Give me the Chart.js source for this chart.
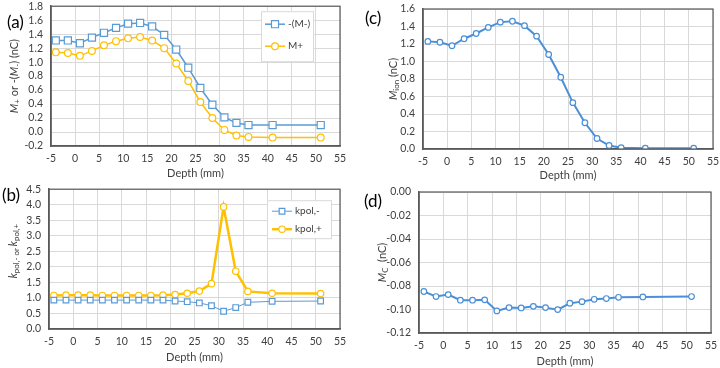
<!DOCTYPE html>
<html lang="en">
<head>
  <meta charset="utf-8">
  <title>Depth profiles</title>
  <script src="https://cdn.jsdelivr.net/npm/chart.js@4.4.0/dist/chart.umd.min.js"></script>
  <style>
    body { margin: 0; padding: 0; background: #fff; }
    .panel { position: absolute; width: 360px; height: 184px; }
    .panel canvas { display: block; }
    .tag { position: absolute; font: 17px Lato, "Open Sans", sans-serif; color: #000; }
  </style>
</head>
<body>
  <div class="panel" style="left:0;top:0"><canvas id="ca" width="360" height="184"></canvas></div>
  <div class="panel" style="left:0;top:184px"><canvas id="cb" width="360" height="184"></canvas></div>
  <div class="panel" style="left:360px;top:0"><canvas id="cc" width="360" height="184"></canvas></div>
  <div class="panel" style="left:360px;top:184px"><canvas id="cd" width="360" height="184"></canvas></div>
  <div class="tag" style="left:7px;top:11px">(a)</div>
  <div class="tag" style="left:2px;top:184px">(b)</div>
  <div class="tag" style="left:365px;top:7px">(c)</div>
  <div class="tag" style="left:364px;top:190px">(d)</div>
  <script>
    // depth of each measurement point (mm)
    const depth = [-4, -1.5, 1, 3.5, 6, 8.5, 11, 13.5, 16, 18.5, 21, 23.5, 26, 28.5, 31, 33.5, 36, 41, 51];

    // (a) readings, nC
    const mMinus = [1.31, 1.31, 1.27, 1.35, 1.42, 1.49, 1.55, 1.56, 1.51, 1.39, 1.18, 0.92, 0.63, 0.39, 0.21, 0.13, 0.10, 0.10, 0.10];
    const mPlus  = [1.14, 1.13, 1.09, 1.16, 1.24, 1.30, 1.34, 1.36, 1.31, 1.20, 0.98, 0.73, 0.43, 0.20, 0.03, -0.05, -0.07, -0.08, -0.08];

    // (b) polarity correction factors
    const kMinus = [0.93, 0.93, 0.93, 0.93, 0.93, 0.93, 0.93, 0.93, 0.93, 0.93, 0.90, 0.88, 0.84, 0.75, 0.57, 0.69, 0.86, 0.89, 0.90];
    const kPlus  = [1.08, 1.09, 1.09, 1.09, 1.08, 1.08, 1.08, 1.08, 1.08, 1.09, 1.11, 1.15, 1.22, 1.46, 3.93, 1.86, 1.21, 1.15, 1.14];

    // (c) ion signal, nC
    const mIon = [1.23, 1.22, 1.18, 1.26, 1.32, 1.39, 1.45, 1.46, 1.41, 1.29, 1.08, 0.82, 0.53, 0.30, 0.12, 0.04, 0.015, 0.01, 0.01];

    // (d) Compton current, nC
    const mC = [-0.0847, -0.0890, -0.0873, -0.0921, -0.0921, -0.0918, -0.1012, -0.0984, -0.0987, -0.0973, -0.0984, -0.1001, -0.0947, -0.0933, -0.0913, -0.0907, -0.0896, -0.0893, -0.0890];

    // axis ranges [min, max, step]
    const xRange = [-5, 55, 5];
    const yRangeA = [-0.2, 1.8, 0.2];
    const yRangeB = [0, 4.5, 0.5];
    const yRangeC = [0, 1.6, 0.2];
    const yRangeD = [-0.12, 0, 0.02];

    const FONT = 'Lato, "Open Sans", sans-serif';
    const TXT = '#404040';
    const GRID = '#d9d9d9';
    const AXIS = '#595959';
    const BLUE = '#5b9bd5';
    const GOLD = '#ffc000';
    const DEEP = '#4a8fd8';

    const pts = arr => arr.map((v, i) => ({ x: depth[i], y: v }));

    function setFont(ctx, p, size) {
      const s = p.sub ? size * 0.72 : size;
      ctx.font = (p.i ? 'italic ' : '') + s + 'px ' + FONT;
    }

    // draw a run of text pieces (italic / subscript) centred on cx,cy
    function drawRich(ctx, parts, cx, cy, size, rot) {
      ctx.save();
      ctx.translate(cx, cy);
      if (rot) ctx.rotate(-Math.PI / 2);
      let w = 0;
      parts.forEach(p => { setFont(ctx, p, size); w += ctx.measureText(p.t).width; });
      let x = -w / 2;
      ctx.textBaseline = 'middle';
      ctx.textAlign = 'left';
      ctx.fillStyle = TXT;
      parts.forEach(p => {
        setFont(ctx, p, size);
        ctx.fillText(p.t, x, p.sub ? size * 0.3 : 0);
        x += ctx.measureText(p.t).width;
      });
      ctx.restore();
    }

    function marker(ctx, style, r, x, y) {
      ctx.beginPath();
      if (style === 'rect') {
        const h = r * Math.SQRT1_2;
        ctx.rect(x - h, y - h, 2 * h, 2 * h);
      } else {
        ctx.arc(x, y, r, 0, Math.PI * 2);
      }
      ctx.fillStyle = '#fff';
      ctx.fill();
      ctx.stroke();
    }

    const decor = {
      id: 'decor',
      afterDraw(chart, args, o) {
        const { ctx, chartArea: a } = chart;
        ctx.save();
        ctx.strokeStyle = AXIS;
        ctx.lineWidth = 1.2;
        ctx.strokeRect(a.left, a.top, a.right - a.left, a.bottom - a.top);
        ctx.restore();

        drawRich(ctx, o.yTitle, a.left - o.yGap, (a.top + a.bottom) / 2 + (o.yShift || 0), 11, true);
        drawRich(ctx, [{ t: 'Depth (mm)' }], (a.left + a.right) / 2, a.bottom + o.xGap, 11, false);

        const L = o.legend;
        if (!L) return;
        const bx = a.right - L.right - L.w, by = a.top + L.top;
        ctx.save();
        ctx.fillStyle = '#fff';
        ctx.fillRect(bx, by, L.w, L.h);
        ctx.strokeStyle = GRID;
        ctx.lineWidth = 1;
        ctx.strokeRect(bx + 0.5, by + 0.5, L.w, L.h);
        chart.data.datasets.forEach((ds, i) => {
          const y = by + L.first + i * L.gap;
          const x0 = bx + L.pad;
          ctx.strokeStyle = ds.borderColor;
          ctx.lineWidth = ds.borderWidth;
          ctx.beginPath();
          ctx.moveTo(x0, y);
          ctx.lineTo(x0 + 20, y);
          ctx.stroke();
          ctx.lineWidth = ds.pointBorderWidth;
          marker(ctx, ds.pointStyle, ds.pointRadius, x0 + 10, y);
          ctx.fillStyle = TXT;
          ctx.font = '10px ' + FONT;
          ctx.textBaseline = 'middle';
          ctx.fillText(ds.label, x0 + 23, y);
        });
        ctx.restore();
      }
    };

    function makeChart(id, datasets, yr, dec, box, deco) {
      new Chart(document.getElementById(id), {
        type: 'line',
        data: { datasets },
        plugins: [decor],
        options: {
          responsive: false,
          animation: false,
          layout: { padding: { top: box.top, right: 360 - box.right, left: 0, bottom: 0 } },
          plugins: { legend: { display: false }, tooltip: { enabled: false }, decor: deco },
          scales: {
            x: {
              type: 'linear', min: xRange[0], max: xRange[1],
              afterFit: s => {
                s.height = 184 - box.bottom;
                s.paddingLeft = 0; s.paddingRight = 0;
              },
              ticks: { stepSize: xRange[2], color: TXT, font: { family: FONT, size: 10.5 }, padding: 6,
                       maxRotation: 0, autoSkip: false },
              grid: { color: GRID, drawTicks: false },
              border: { color: AXIS, width: 1.5 }
            },
            y: {
              min: yr[0], max: yr[1],
              afterFit: s => {
                s.width = box.left;
                s.paddingTop = 0; s.paddingBottom = 0;
              },
              ticks: { stepSize: yr[2], color: TXT, font: { family: FONT, size: 10.5 }, padding: 8,
                       autoSkip: false, callback: v => v.toFixed(dec) },
              grid: { color: GRID, drawTicks: false },
              border: { color: AXIS, width: 1.5 }
            }
          }
        }
      });
    }

    function series(label, values, color, width, style, r) {
      return {
        label, data: pts(values), borderColor: color, borderWidth: width, tension: 0,
        pointStyle: style, pointRadius: r, pointBorderWidth: 1.2,
        pointBackgroundColor: '#fff', pointBorderColor: color
      };
    }

    makeChart('ca', [
      series('-(M-)', mMinus, BLUE, 1.5, 'rect', 5),
      series('M+', mPlus, GOLD, 1.5, 'circle', 3.4)
    ], yRangeA, 1, { left: 51, top: 5, right: 340, bottom: 146 }, {
      yTitle: [{ t: 'M', i: 1 }, { t: '+', sub: 1 }, { t: ' or -(' }, { t: 'M', i: 1 }, { t: '-', sub: 1 }, { t: ') (nC)' }],
      yGap: 37, xGap: 27,
      legend: { right: 27, top: 5, w: 52, h: 50, first: 13, gap: 22, pad: 4 }
    });

    makeChart('cb', [
      series('kpol,-', kMinus, BLUE, 1, 'rect', 4),
      series('kpol,+', kPlus, GOLD, 2.5, 'circle', 3.2)
    ], yRangeB, 1, { left: 49, top: 5, right: 340, bottom: 145 }, {
      yTitle: [{ t: 'k', i: 1 }, { t: 'pol,- or ', sub: 1 }, { t: 'k', i: 1 }, { t: 'pol,+', sub: 1 }],
      yGap: 36, xGap: 28, yShift: -8,
      legend: { right: 9, top: 11, w: 64, h: 38, first: 11, gap: 18, pad: 5 }
    });

    makeChart('cc', [
      series('Mion', mIon, DEEP, 2, 'circle', 2.8)
    ], yRangeC, 1, { left: 63, top: 9, right: 353, bottom: 149 }, {
      yTitle: [{ t: 'M', i: 1 }, { t: 'ion', sub: 1 }, { t: ' (nC)' }],
      yGap: 30, xGap: 26
    });

    makeChart('cd', [
      series('MC', mC, DEEP, 2, 'circle', 2.8)
    ], yRangeD, 2, { left: 59, top: 8, right: 351, bottom: 149 }, {
      yTitle: [{ t: 'M', i: 1 }, { t: 'C', sub: 1 }, { t: '  (nC)' }],
      yGap: 37, xGap: 28
    });
  </script>
</body>
</html>
